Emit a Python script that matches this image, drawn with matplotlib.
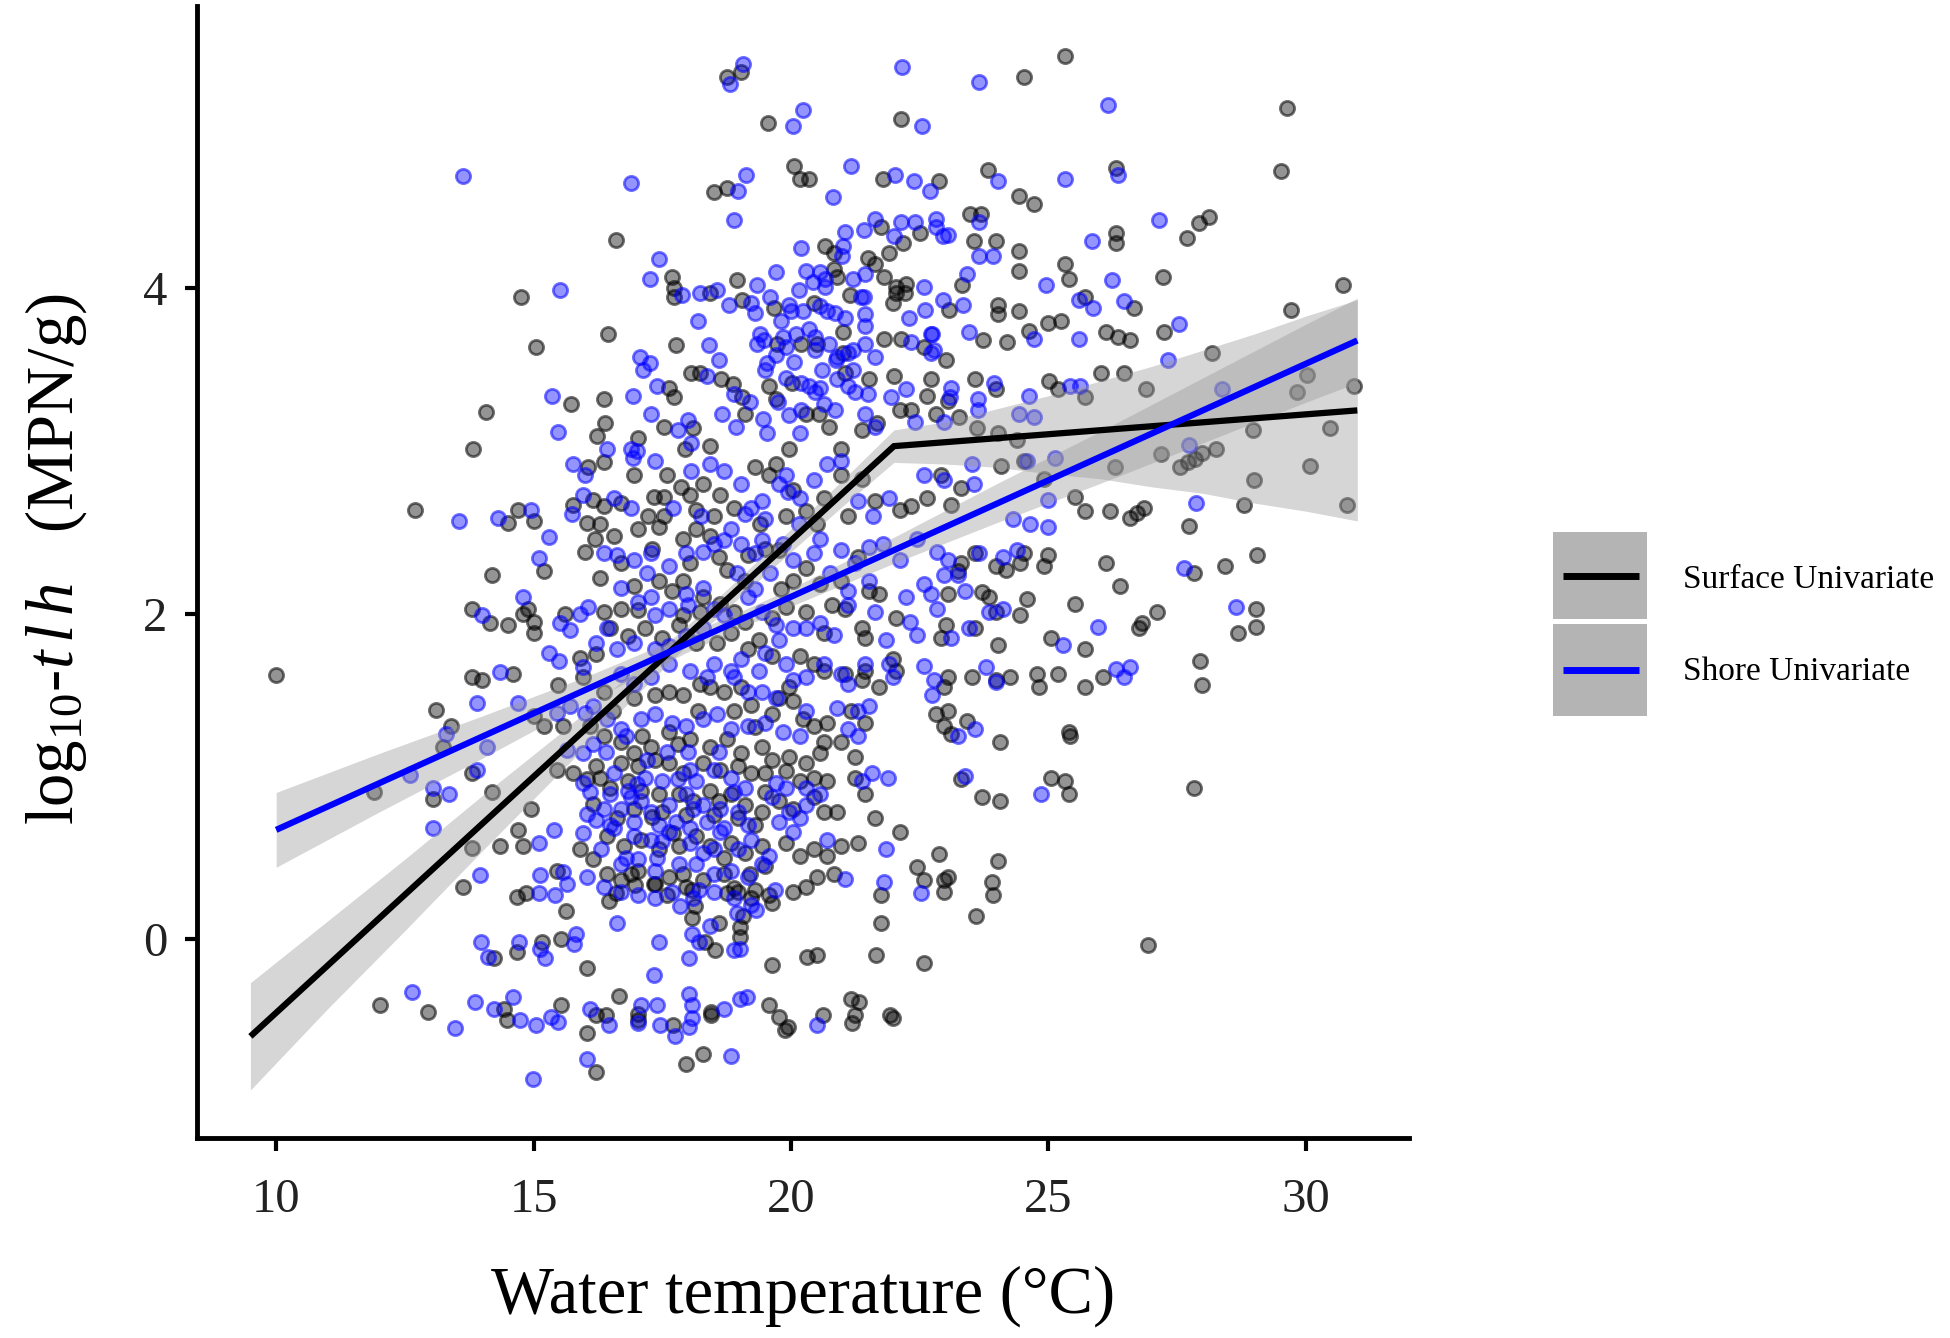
import numpy as np
import matplotlib
matplotlib.use('Agg')
import matplotlib.pyplot as plt
from matplotlib.patches import Rectangle
from matplotlib.lines import Line2D

plt.rcParams['font.family'] = ['Liberation Serif', 'DejaVu Serif']
plt.rcParams['mathtext.fontset'] = 'custom'
plt.rcParams['mathtext.rm'] = 'Liberation Serif'
plt.rcParams['mathtext.it'] = 'Liberation Serif:italic'

# ---- surface samples (water temperature degC, log10 tlh MPN/g)
surface_left = [
    (10.0, 1.62), (12.7, 2.64), (14.5, 2.56), (14.7, 2.64), (15.0, 2.57), (14.2, 2.24),
    (15.2, 2.26), (13.8, 2.03), (14.15, 1.94), (14.5, 1.93), (14.8, 2.0), (14.9, 2.03),
    (15.0, 1.95), (15.0, 1.88), (13.8, 1.61), (14.0, 1.59), (14.6, 1.63), (13.1, 1.41),
    (13.4, 1.31), (13.25, 1.18), (15.0, 1.37), (15.2, 1.31), (13.8, 1.02), (11.9, 0.90),
    (13.05, 0.86), (14.2, 0.90), (14.95, 0.8), (14.7, 0.67), (14.8, 0.57), (14.35, 0.57),
    (13.8, 0.56), (14.75, 3.95), (15.04, 3.64), (15.72, 3.29), (14.07, 3.24), (16.24, 3.09),
    (13.83, 3.01), (16.06, 2.9), (15.77, 2.67), (16.03, 2.56), (16.16, 2.7), (16.0, 2.38),
    (16.19, 2.46), (15.61, 2.0), (15.9, 1.73), (16.22, 1.75), (15.48, 1.56), (15.96, 1.61),
    (15.58, 1.31), (16.09, 1.31), (15.45, 1.04), (15.77, 1.02), (16.03, 0.98), (16.22, 1.06),
    (16.16, 0.83), (15.9, 0.55), (16.16, 0.49), (15.45, 0.42),
]
surface_top = [
    (25.32, 5.43), (24.52, 5.30), (18.75, 5.30), (19.03, 5.33), (19.55, 5.02), (22.13, 5.04),
    (20.05, 4.75), (20.17, 4.67), (20.35, 4.67), (21.78, 4.67), (22.87, 4.66), (23.83, 4.73),
    (26.32, 4.74), (24.43, 4.57), (24.72, 4.52), (18.51, 4.59), (18.75, 4.62), (16.61, 4.30),
    (23.48, 4.46), (23.70, 4.46), (23.55, 4.29), (23.98, 4.29), (24.42, 4.23), (24.43, 4.11),
    (26.32, 4.34), (26.32, 4.28), (25.32, 4.15), (25.39, 4.06), (20.67, 4.26), (20.84, 4.22),
    (21.74, 4.38), (22.5, 4.34), (22.18, 4.28), (21.9, 4.22), (21.49, 4.19), (21.64, 4.15),
    (21.81, 4.07), (22.04, 4.01), (22.24, 4.03), (22.03, 3.97), (22.21, 3.97), (21.98, 3.91),
    (23.33, 4.02), (24.03, 3.90), (24.03, 3.84), (24.43, 3.86), (23.07, 3.87), (24.63, 3.74),
    (24.99, 3.79), (25.24, 3.80), (23.73, 3.68), (24.2, 3.67), (25.71, 3.95), (26.12, 3.73),
    (26.36, 3.7), (26.59, 3.68), (26.66, 3.88), (26.02, 3.48), (26.46, 3.48), (25.02, 3.43),
    (25.19, 3.38), (25.72, 3.33), (23.58, 3.44), (23.98, 3.38), (23.01, 3.56), (22.71, 3.44),
    (22.58, 3.64), (23.05, 3.31), (23.27, 3.21), (23.61, 3.14), (24.02, 3.11), (24.38, 3.07),
    (17.69, 4.07), (17.73, 4.0), (17.73, 3.95), (18.43, 3.97), (18.95, 4.05), (19.05, 3.93),
    (19.67, 3.88), (20.44, 3.91), (20.84, 4.12), (20.9, 4.07), (21.01, 3.73), (21.14, 3.96),
    (21.81, 3.69), (22.14, 3.69), (17.77, 3.65), (16.45, 3.72), (18.06, 3.48), (18.23, 3.48),
    (18.64, 3.44), (18.87, 3.41), (17.63, 3.39), (17.73, 3.33), (16.36, 3.32), (16.39, 3.17),
    (17.03, 3.08), (17.53, 3.15), (18.1, 3.14), (17.95, 3.01), (18.43, 3.03), (19.05, 3.33),
    (19.1, 3.23), (19.57, 3.4), (19.71, 3.32), (20.02, 3.42), (20.3, 3.23), (20.54, 3.23),
    (21.05, 3.48), (21.51, 3.44), (20.5, 3.66), (20.19, 3.66), (19.73, 3.66), (21.01, 3.6),
    (20.74, 3.15), (21.37, 3.13), (21.68, 3.17), (22.01, 3.46), (22.11, 3.25), (22.34, 3.25),
    (22.65, 3.34), (22.81, 3.23), (19.96, 3.01), (20.97, 3.01),
]
surface_core = [
    (16.36, 2.93), (16.96, 2.85), (17.33, 2.72), (17.53, 2.72), (17.86, 2.78), (18.03, 2.73),
    (16.36, 2.66), (16.69, 2.68), (17.23, 2.6), (17.53, 2.6), (18.16, 2.64), (18.63, 2.73),
    (19.3, 2.9), (19.57, 2.85), (19.7, 2.92), (20.04, 2.76), (20.3, 2.63), (20.64, 2.71),
    (20.97, 2.85), (21.37, 2.83), (21.64, 2.69), (22.11, 2.64), (22.34, 2.66), (22.64, 2.71),
    (22.91, 2.85), (23.11, 2.67), (23.31, 2.77), (24.08, 2.91), (24.52, 2.94), (24.92, 2.83),
    (25.52, 2.72), (25.72, 2.63), (26.19, 2.63), (26.29, 2.9), (26.59, 2.59),
    (16.29, 2.55), (16.56, 2.48), (17.03, 2.52), (17.43, 2.53), (17.9, 2.46), (18.16, 2.52),
    (18.43, 2.48), (18.03, 2.31), (16.69, 2.31), (16.29, 2.22), (16.96, 2.17), (17.43, 2.2),
    (17.69, 2.14), (18.3, 2.1), (18.76, 2.27), (19.17, 2.36), (19.5, 2.4), (19.77, 2.39),
    (20.3, 2.28), (20.04, 2.2), (20.57, 2.18), (20.97, 2.2), (21.51, 2.14), (21.71, 2.12),
    (23.05, 2.12), (23.31, 2.31), (23.58, 2.37), (23.25, 2.26), (23.98, 2.29), (24.18, 2.27),
    (24.45, 2.31), (24.52, 2.37), (24.92, 2.29), (24.99, 2.36), (26.12, 2.31), (26.39, 2.17),
    (25.52, 2.06), (24.58, 2.09), (24.45, 1.99), (23.98, 2.01), (23.85, 2.1), (23.71, 2.13),
    (22.04, 1.97), (21.37, 1.91), (21.44, 1.85), (23.01, 1.93), (22.91, 1.85), (23.58, 1.91),
    (24.02, 1.81), (25.05, 1.85), (25.72, 1.78), (26.76, 1.91), (16.36, 2.01), (16.69, 2.03),
    (17.03, 2.02), (17.9, 1.99), (18.23, 2.01), (18.63, 2.06), (18.9, 2.01), (19.1, 1.95),
    (19.63, 1.97), (19.9, 2.04), (20.3, 2.01), (20.64, 1.88), (21.04, 2.03),
    (16.49, 1.91), (16.83, 1.86), (17.16, 1.91), (17.49, 1.85), (17.83, 1.93), (18.16, 1.82),
    (18.56, 1.82), (18.83, 1.88), (19.17, 1.78), (19.37, 1.84), (19.63, 1.74), (19.97, 1.55),
    (20.04, 1.46), (20.17, 1.74), (20.44, 1.69), (20.64, 1.65), (21.04, 1.63), (21.37, 1.59),
    (21.44, 1.65), (21.71, 1.55), (21.98, 1.72), (22.04, 1.65), (23.05, 1.61), (22.98, 1.55),
    (23.51, 1.61), (23.98, 1.59), (24.25, 1.61), (24.78, 1.63), (24.82, 1.55), (25.19, 1.63),
    (25.72, 1.55), (26.06, 1.61), (16.36, 1.52), (16.96, 1.48), (17.36, 1.5), (17.63, 1.52),
    (17.9, 1.5), (18.23, 1.57), (18.43, 1.55), (18.7, 1.52), (19.03, 1.55), (19.23, 1.44),
    (19.63, 1.38), (19.77, 1.48), (20.24, 1.35), (20.44, 1.31), (20.7, 1.33), (21.17, 1.4),
    (21.44, 1.33), (22.81, 1.38), (23.05, 1.4), (23.41, 1.34), (22.98, 1.31), (23.11, 1.26),
    (24.05, 1.21), (25.39, 1.27), (25.42, 1.25),
    (16.36, 1.25), (16.69, 1.21), (16.96, 1.14), (17.29, 1.18), (17.63, 1.27), (18.03, 1.23),
    (18.43, 1.18), (18.76, 1.23), (19.03, 1.14), (19.43, 1.18), (19.63, 1.1), (19.97, 1.12),
    (20.3, 1.08), (20.64, 1.21), (20.97, 1.21), (21.24, 1.12), (20.57, 1.14), (16.69, 1.08),
    (17.03, 1.06), (17.36, 1.1), (17.63, 1.08), (17.9, 1.02), (18.3, 1.08), (18.63, 1.04),
    (18.97, 1.06), (19.23, 1.02), (19.5, 1.02), (19.9, 1.03), (20.17, 0.97), (20.44, 0.99),
    (20.7, 0.97), (21.24, 0.99), (21.44, 0.89), (21.64, 0.74), (22.11, 0.66), (23.31, 0.98),
    (23.71, 0.87), (24.05, 0.85), (25.05, 0.99), (25.32, 0.97), (25.39, 0.89), (16.29, 0.99),
    (16.49, 0.93), (16.83, 0.97), (17.09, 0.91), (17.43, 0.89), (17.83, 0.89), (18.1, 0.85),
    (18.43, 0.91), (18.83, 0.89), (19.1, 0.82), (19.43, 0.78), (19.77, 0.85), (20.04, 0.8),
    (20.44, 0.87), (20.64, 0.78), (20.9, 0.78), (16.96, 0.8), (16.62, 0.74), (17.49, 0.78),
    (17.96, 0.76), (18.5, 0.76), (18.97, 0.74), (19.3, 0.7),
    (16.42, 0.63), (16.76, 0.57), (17.09, 0.61), (17.43, 0.55), (17.83, 0.57), (18.16, 0.63),
    (18.43, 0.57), (18.83, 0.59), (19.1, 0.53), (19.43, 0.57), (19.9, 0.59), (20.17, 0.51),
    (20.44, 0.55), (20.7, 0.51), (20.97, 0.57), (21.31, 0.59), (20.5, 0.38), (20.84, 0.4),
    (20.3, 0.32), (20.04, 0.29), (22.44, 0.44), (22.58, 0.36), (22.88, 0.52), (23.05, 0.38),
    (22.98, 0.29), (23.92, 0.27), (24.02, 0.48), (16.42, 0.4), (16.69, 0.36), (17.03, 0.42),
    (17.36, 0.34), (17.63, 0.38), (17.96, 0.32), (18.3, 0.36), (18.7, 0.4), (18.97, 0.29),
    (19.23, 0.25), (19.57, 0.27),
]
surface_dense = [
    (17.6, 2.85), (18.3, 2.8), (18.9, 2.65), (19.4, 2.55), (19.9, 2.6), (17.3, 2.4),
    (18.6, 2.35), (19.1, 2.2), (19.8, 2.15), (17.9, 2.2), (18.5, 2.6), (20.5, 2.55),
    (21.1, 2.6), (21.3, 2.35), (20.8, 2.05), (16.55, 1.4), (17.1, 1.25), (17.8, 1.2),
    (18.2, 1.4), (17.3, 0.75), (17.7, 0.65), (18.6, 0.85), (16.9, 0.4), (17.9, 0.4),
    (18.7, 0.5), (18.9, 1.4), (19.3, 1.3), (19.5, 0.9), (19.2, 0.4), (19.5, 0.45),
    (18.6, 0.1), (19.3, 0.3),
]
surface_low = [
    (13.62, 0.32), (14.67, 0.26), (14.86, 0.28), (15.63, 0.17), (16.47, 0.23), (16.6, 0.28),
    (16.97, 0.33), (17.34, 0.34), (17.59, 0.27), (18.08, 0.3), (18.14, 0.2), (18.08, 0.13),
    (18.76, 0.28), (18.89, 0.31), (19.63, 0.22), (19.07, 0.14), (19.01, 0.07), (19.01, 0.01),
    (21.74, 0.27), (21.74, 0.1), (23.6, 0.14), (22.98, 0.36), (23.9, 0.35), (26.94, -0.04),
    (22.58, -0.15), (21.65, -0.1), (20.31, -0.11), (20.5, -0.1), (19.63, -0.16), (18.33, -0.02),
    (18.52, -0.07), (16.04, -0.18), (15.54, 0.0), (15.17, -0.02), (14.67, -0.08), (14.24, -0.12),
    (12.01, -0.41), (12.94, -0.45), (14.43, -0.43), (14.49, -0.5), (15.54, -0.41), (16.66, -0.35),
    (16.22, -0.47), (16.41, -0.47), (16.04, -0.58), (17.03, -0.46), (17.03, -0.5), (17.71, -0.53),
    (18.45, -0.45), (18.45, -0.47), (19.57, -0.41), (19.76, -0.48), (19.94, -0.54), (19.88, -0.56),
    (20.62, -0.47), (21.16, -0.37), (21.33, -0.39), (21.24, -0.47), (21.18, -0.52), (21.92, -0.47),
    (21.99, -0.49), (16.22, -0.82), (17.96, -0.77), (18.3, -0.71),
]
surface_right = [
    (29.63, 5.11), (29.52, 4.72), (28.11, 4.44), (27.92, 4.4), (27.7, 4.31), (27.22, 4.07),
    (27.25, 3.73), (28.18, 3.6), (29.72, 3.87), (30.72, 4.02), (26.9, 3.38), (30.02, 3.47),
    (29.83, 3.36), (30.93, 3.4), (28.98, 3.13), (30.47, 3.14), (27.19, 2.98), (27.56, 2.9),
    (27.72, 2.93), (27.85, 2.95), (27.98, 2.99), (28.26, 3.01), (28.99, 2.82), (30.08, 2.91),
    (28.79, 2.67), (30.8, 2.67), (26.72, 2.62), (26.85, 2.65), (27.74, 2.54), (27.83, 2.25),
    (28.43, 2.29), (29.06, 2.36), (29.04, 2.03), (29.04, 1.92), (28.69, 1.88), (27.11, 2.01),
    (26.82, 1.94), (27.94, 1.71), (27.98, 1.56), (27.82, 0.93),
]

# ---- shore samples
shore_left = [
    (13.55, 2.57), (14.3, 2.59), (14.95, 2.64), (15.3, 2.47), (15.1, 2.34), (14.0, 1.99),
    (14.8, 2.1), (14.35, 1.64), (13.9, 1.45), (15.3, 1.76), (15.5, 1.71), (13.3, 1.26),
    (14.1, 1.18), (14.7, 1.45), (13.9, 1.04), (12.6, 1.01), (13.05, 0.93), (13.35, 0.89),
    (13.05, 0.68), (15.1, 0.59), (15.4, 0.67), (13.95, 0.39), (13.63, 4.69), (15.52, 3.99),
    (15.36, 3.34), (15.48, 3.12), (17.0, 3.0), (15.77, 2.92), (16.0, 2.85), (15.74, 2.61),
    (15.96, 2.73), (15.9, 2.0), (16.06, 2.04), (15.51, 1.94), (15.71, 1.9), (16.22, 1.82),
    (15.96, 1.67), (15.45, 1.39), (15.71, 1.43), (16.0, 1.39), (16.16, 1.43), (15.64, 1.16),
    (15.96, 1.14), (16.16, 1.2), (15.96, 0.96), (16.09, 0.9), (16.03, 0.77), (16.22, 0.73),
    (15.96, 0.65), (15.12, 0.39), (15.58, 0.41), (15.64, 0.34), (16.03, 0.38),
]
shore_top = [
    (19.07, 5.38), (18.82, 5.26), (20.24, 5.1), (20.04, 5.0), (22.16, 5.36), (23.66, 5.27),
    (22.54, 5.0), (26.16, 5.13), (16.9, 4.65), (19.12, 4.7), (18.97, 4.6), (18.89, 4.42),
    (21.16, 4.75), (20.81, 4.56), (22.02, 4.7), (22.38, 4.66), (22.7, 4.6), (24.03, 4.66),
    (25.32, 4.67), (26.36, 4.7), (21.64, 4.43), (22.14, 4.41), (22.41, 4.41), (22.81, 4.43),
    (22.81, 4.38), (22.95, 4.32), (23.05, 4.33), (22.01, 4.32), (21.04, 4.35), (21.41, 4.36),
    (21.01, 4.26), (23.65, 4.41), (23.65, 4.2), (23.92, 4.2), (23.41, 4.09), (25.84, 4.29),
    (26.24, 4.05), (26.46, 3.92), (25.59, 3.93), (25.86, 3.88), (24.95, 4.02), (25.59, 3.69),
    (24.72, 3.69), (23.45, 3.73), (23.35, 3.9), (22.95, 3.93), (22.61, 3.87), (22.3, 3.82),
    (22.58, 4.01), (22.74, 3.72), (22.78, 3.62), (17.43, 4.18), (17.26, 4.06), (17.88, 3.96),
    (18.23, 3.97), (18.56, 3.99), (18.79, 3.9), (19.23, 3.91), (19.33, 4.02), (20.16, 3.99),
    (20.3, 4.11), (20.42, 4.04), (20.57, 4.1), (20.67, 4.06), (20.67, 4.01), (21.21, 4.06),
    (21.44, 4.09), (21.41, 3.95), (19.97, 3.9), (20.0, 3.86), (20.24, 3.86), (20.57, 3.89),
    (20.7, 3.86), (21.04, 3.82), (21.44, 3.84), (21.44, 3.77), (19.4, 3.72), (19.47, 3.68),
    (19.33, 3.66), (19.84, 3.7), (20.1, 3.72), (19.9, 3.64), (20.47, 3.7), (20.74, 3.66),
    (20.47, 3.62), (21.44, 3.66), (21.21, 3.62), (22.34, 3.67), (22.71, 3.72), (22.71, 3.6),
    (18.6, 3.56), (17.06, 3.58), (17.26, 3.54), (17.13, 3.5), (16.93, 3.34), (17.29, 3.23),
    (17.39, 3.4), (18.36, 3.46), (19.53, 3.54), (19.5, 3.5), (19.7, 3.59), (19.9, 3.45),
    (20.2, 3.42), (20.34, 3.4), (20.57, 3.39), (20.9, 3.58), (21.1, 3.6), (20.87, 3.56),
    (21.64, 3.58), (20.9, 3.44), (21.1, 3.4), (21.24, 3.36), (21.94, 3.33), (22.24, 3.38),
    (23.1, 3.39), (23.08, 3.33), (23.95, 3.42), (23.63, 3.32), (23.63, 3.25), (24.62, 3.34),
    (24.42, 3.23), (24.72, 3.21), (25.42, 3.4), (25.62, 3.4), (19.97, 3.22), (20.17, 3.11),
    (18.66, 3.23), (18.93, 3.15), (17.8, 3.13), (18.0, 3.19), (18.06, 3.05), (19.53, 3.11),
    (20.47, 3.36), (20.64, 3.29), (21.44, 3.23), (21.64, 3.15), (22.41, 3.18), (22.98, 3.18),
    (16.42, 3.01), (16.89, 3.01),
]
shore_core = [
    (16.93, 2.96), (17.36, 2.94), (18.06, 2.88), (18.43, 2.92), (18.7, 2.88), (19.03, 2.8),
    (19.23, 2.65), (19.43, 2.69), (19.77, 2.8), (19.9, 2.85), (20.17, 2.71), (20.44, 2.82),
    (20.7, 2.92), (20.97, 2.94), (21.31, 2.69), (21.91, 2.71), (22.58, 2.85), (22.98, 2.82),
    (23.51, 2.92), (23.55, 2.8), (24.58, 2.94), (24.99, 2.7), (25.12, 2.96), (24.32, 2.58),
    (24.65, 2.55), (24.99, 2.53), (16.89, 2.65), (16.56, 2.71), (19.1, 2.61), (19.5, 2.58),
    (18.83, 2.52),
    (16.36, 2.37), (16.62, 2.36), (16.96, 2.33), (17.29, 2.37), (17.63, 2.29), (17.96, 2.37),
    (18.3, 2.38), (18.5, 2.43), (19.03, 2.43), (19.3, 2.37), (19.43, 2.45), (19.84, 2.43),
    (20.04, 2.33), (20.44, 2.37), (20.57, 2.46), (20.97, 2.39), (21.24, 2.31), (21.51, 2.41),
    (21.78, 2.43), (22.11, 2.33), (22.44, 2.46), (22.84, 2.38), (23.05, 2.33), (23.25, 2.24),
    (23.38, 2.14), (23.65, 2.37), (24.12, 2.35), (24.38, 2.39), (22.98, 2.24), (22.58, 2.18),
    (22.71, 2.12), (22.24, 2.1), (22.31, 1.95), (22.44, 1.87), (21.51, 2.2), (21.1, 2.14),
    (21.1, 2.05), (21.64, 2.01), (21.84, 1.84), (22.84, 2.03), (23.11, 1.85), (23.45, 1.91),
    (23.85, 2.01), (24.12, 2.03), (25.96, 1.92), (25.29, 1.81), (16.69, 2.16), (17.03, 2.07),
    (17.29, 2.1), (17.63, 2.03), (17.36, 1.99), (17.96, 2.12), (18.3, 2.16), (18.5, 2.03),
    (18.7, 1.99), (19.17, 2.1), (19.43, 2.01), (19.7, 1.93), (20.04, 1.91), (20.3, 1.91),
    (20.57, 1.94), (20.84, 1.87),
    (16.42, 1.91), (16.62, 1.78), (16.96, 1.82), (17.36, 1.78), (17.63, 1.8), (17.96, 1.86),
    (18.3, 1.91), (18.5, 1.69), (18.83, 1.65), (19.03, 1.72), (19.37, 1.65), (19.5, 1.76),
    (19.77, 1.84), (19.9, 1.69), (20.3, 1.61), (20.64, 1.69), (20.97, 1.63), (21.1, 1.57),
    (21.44, 1.69), (21.91, 1.69), (21.98, 1.61), (22.58, 1.68), (22.78, 1.59), (22.74, 1.5),
    (23.78, 1.67), (23.98, 1.58), (26.32, 1.66), (26.46, 1.61), (16.69, 1.63), (16.96, 1.57),
    (17.29, 1.61), (17.63, 1.69), (18.03, 1.65), (18.36, 1.61), (18.9, 1.61), (19.17, 1.52),
    (19.43, 1.52), (19.7, 1.48), (20.04, 1.59), (20.9, 1.42), (21.31, 1.4), (21.51, 1.43),
    (20.3, 1.4), (16.42, 1.35), (16.69, 1.29), (17.09, 1.35), (17.36, 1.38), (17.69, 1.33),
    (17.96, 1.31), (18.3, 1.35), (18.56, 1.38), (18.83, 1.29), (19.17, 1.31), (19.5, 1.33),
    (19.84, 1.27), (20.17, 1.25), (21.1, 1.29), (21.31, 1.25), (23.25, 1.25), (23.58, 1.29),
    (16.56, 1.02), (16.83, 0.91), (17.16, 0.99), (17.49, 0.97), (18.03, 1.04), (18.16, 0.97),
    (18.5, 1.04), (18.83, 0.99), (19.1, 0.93), (19.7, 0.96), (19.9, 0.93), (20.3, 0.93),
    (20.57, 0.89), (21.37, 0.97), (21.57, 1.02), (21.88, 0.99), (23.38, 1.0), (24.85, 0.89),
    (16.49, 0.89), (16.36, 0.8), (16.89, 0.87), (17.09, 0.85), (17.29, 0.78), (17.63, 0.82),
    (17.96, 0.89), (18.3, 0.82), (18.63, 0.8), (18.97, 0.78), (19.63, 0.87), (19.97, 0.78),
    (20.3, 0.82), (20.17, 0.74), (19.77, 0.72), (16.49, 0.7), (16.96, 0.72), (17.43, 0.7),
    (17.76, 0.72), (18.03, 0.68), (18.36, 0.72), (18.7, 0.68), (19.17, 0.7),
    (16.56, 0.68), (16.96, 0.63), (17.29, 0.61), (17.63, 0.66), (18.03, 0.59), (18.3, 0.53),
    (18.63, 0.66), (18.97, 0.55), (19.23, 0.61), (19.57, 0.51), (20.04, 0.66), (20.7, 0.61),
    (21.84, 0.55), (16.69, 0.46), (17.03, 0.49), (17.36, 0.42), (17.83, 0.46), (18.16, 0.46),
    (18.5, 0.4), (18.83, 0.42), (19.17, 0.38), (19.43, 0.46), (16.36, 0.32), (16.69, 0.29),
    (17.03, 0.27), (17.36, 0.25), (17.69, 0.29), (18.1, 0.25), (18.5, 0.29), (18.9, 0.25),
    (19.23, 0.21), (21.04, 0.37), (21.81, 0.35),
]
shore_dense = [
    (19.3, 3.85), (19.6, 3.95), (19.8, 3.8), (20.05, 3.55), (20.35, 3.75), (20.6, 3.5),
    (20.85, 3.85), (21.2, 3.5), (21.35, 3.95), (19.2, 3.3), (19.45, 3.2), (19.75, 3.3),
    (20.2, 3.25), (20.85, 3.25), (21.5, 3.35), (18.9, 3.35), (18.4, 3.65), (18.2, 3.8),
    (21.0, 4.2), (20.2, 4.25), (19.7, 4.1), (17.7, 2.65), (18.25, 2.6), (18.7, 2.45),
    (19.6, 2.25), (20.15, 2.55), (17.2, 2.25), (18.0, 2.05), (18.95, 2.25), (19.3, 2.15),
    (20.75, 2.25), (21.6, 2.6), (19.95, 2.75), (16.4, 1.15), (16.8, 1.25), (17.2, 1.1),
    (17.6, 1.15), (18.0, 1.15), (18.6, 1.15), (17.0, 0.95), (17.8, 0.98), (16.7, 0.8),
    (17.5, 0.6), (18.1, 0.8), (18.5, 0.55), (16.8, 0.5), (17.4, 0.5), (18.9, 0.9),
    (16.3, 0.55),
]
shore_low = [
    (13.97, -0.02), (14.12, -0.11), (14.71, -0.02), (15.13, -0.06), (15.23, -0.12), (15.11, 0.28),
    (15.42, 0.27), (15.79, -0.03), (15.83, 0.03), (16.62, 0.1), (17.43, -0.02), (18.02, -0.12),
    (17.34, -0.22), (18.08, 0.03), (18.21, -0.02), (18.43, 0.08), (18.89, -0.07), (19.01, -0.06),
    (18.95, 0.16), (19.32, 0.18), (17.84, 0.2), (18.21, 0.3), (19.69, 0.3), (22.52, 0.28),
    (12.63, -0.33), (13.47, -0.55), (13.87, -0.39), (14.24, -0.43), (14.61, -0.36), (14.74, -0.5),
    (15.05, -0.53), (15.33, -0.48), (15.48, -0.51), (16.1, -0.43), (16.47, -0.53), (17.03, -0.52),
    (17.09, -0.41), (17.4, -0.41), (17.46, -0.53), (18.02, -0.34), (18.08, -0.41), (18.02, -0.54),
    (18.08, -0.49), (17.74, -0.6), (18.7, -0.43), (19.01, -0.37), (19.14, -0.36), (20.5, -0.53),
    (16.04, -0.74), (18.83, -0.72), (14.98, -0.86),
]
shore_right = [
    (27.14, 4.42), (27.54, 3.78), (27.33, 3.56), (28.37, 3.38), (27.74, 3.04), (27.87, 2.68),
    (27.63, 2.28), (28.65, 2.04), (26.59, 1.67),
]

# ---- fitted curves and confidence bands
surface_fit_x = [9.5, 22.0, 31.0]
surface_fit_y = [-0.60, 3.03, 3.25]
surface_band_x = [9.5, 11, 12.5, 14, 15.5, 17, 18, 19, 20, 21, 22, 23, 24, 25, 26, 27, 28, 29, 30, 31]
surface_band_lo = [-0.93, -0.43, 0.05, 0.54, 1.02, 1.50, 1.81, 2.10, 2.38, 2.66, 2.93,
                   2.92, 2.90, 2.86, 2.83, 2.78, 2.74, 2.68, 2.63, 2.57]
surface_band_hi = [-0.27, 0.11, 0.49, 0.88, 1.26, 1.66, 1.93, 2.22, 2.52, 2.82, 3.13,
                   3.18, 3.26, 3.34, 3.43, 3.52, 3.62, 3.72, 3.83, 3.93]

shore_fit_x = [10.0, 31.0]
shore_fit_y = [0.67, 3.68]
shore_band_x = [10, 12, 14, 16, 18, 19, 20, 22, 24, 26, 28, 30, 31]
shore_band_lo = [0.44, 0.78, 1.11, 1.45, 1.765, 1.91, 2.045, 2.31, 2.56, 2.80, 3.05, 3.30, 3.42]
shore_band_hi = [0.90, 1.14, 1.37, 1.61, 1.875, 2.01, 2.155, 2.47, 2.80, 3.12, 3.45, 3.78, 3.94]

labels = ['Surface Univariate', 'Shore Univariate']

surface = np.array(surface_left + surface_top + surface_core + surface_dense
                   + surface_low + surface_right)
shore = np.array(shore_left + shore_top + shore_core + shore_dense + shore_low + shore_right)

fig = plt.figure(figsize=(19.5, 13.38), dpi=100)
ax = fig.add_axes([0.1008, 0.1496, 0.6218, 0.8458])

ax.scatter(surface[:, 0], surface[:, 1], s=105, facecolor=(0, 0, 0, 0.42),
           edgecolor=(0, 0, 0, 0.55), linewidths=2.0, zorder=2)
ax.scatter(shore[:, 0], shore[:, 1], s=105, facecolor=(0, 0, 1, 0.42),
           edgecolor=(0, 0, 1, 0.55), linewidths=2.0, zorder=2)

ax.fill_between(surface_band_x, surface_band_lo, surface_band_hi, color='#999999',
                alpha=0.4, lw=0, zorder=3)
ax.fill_between(shore_band_x, shore_band_lo, shore_band_hi, color='#999999',
                alpha=0.4, lw=0, zorder=3)
ax.plot(surface_fit_x, surface_fit_y, color='black', lw=4.5, zorder=4,
        solid_capstyle='butt', solid_joinstyle='miter')
ax.plot(shore_fit_x, shore_fit_y, color='#0000ff', lw=4.5, zorder=4,
        solid_capstyle='butt')

ax.set_xlim(8.454, 32.005)
ax.set_ylim(-1.224, 5.736)
ax.set_xticks([10, 15, 20, 25, 30])
ax.set_yticks([0, 2, 4])
for s in ['top', 'right']:
    ax.spines[s].set_visible(False)
for s in ['left', 'bottom']:
    ax.spines[s].set_linewidth(3.5)
ax.tick_params(length=9, width=3, labelsize=35, labelcolor='#222222', pad=12)
ax.tick_params(axis='x', pad=20)

fig.text(0.412, 0.031, 'Water temperature (°C)', ha='center', va='center', fontsize=48)
fig.text(0.0287, 0.582, r'log$_{10}$-$t\,l\,h$   (MPN/g)', ha='center', va='center',
         rotation=90, fontsize=48)

# legend drawn by hand: grey keys with a line, labels to the right
key_colors = ['black', '#0000ff']
key_boxes = [(0.5372, 0.0650), (0.4647, 0.0688)]
key_line_y = [0.5697, 0.4993]
text_y = [0.5669, 0.4981]
for (y0, h), ly, ty, c, lab in zip(key_boxes, key_line_y, text_y, key_colors, labels):
    fig.patches.append(Rectangle((0.7966, y0), 0.0478, h, transform=fig.transFigure,
                                 facecolor='#b4b4b4', edgecolor='none'))
    fig.lines.append(Line2D([0.8017, 0.8406], [ly, ly], transform=fig.transFigure,
                            color=c, lw=5, solid_capstyle='butt'))
    fig.text(0.8632, ty, lab, ha='left', va='center', fontsize=24)

fig.savefig('out.png', dpi=100)
